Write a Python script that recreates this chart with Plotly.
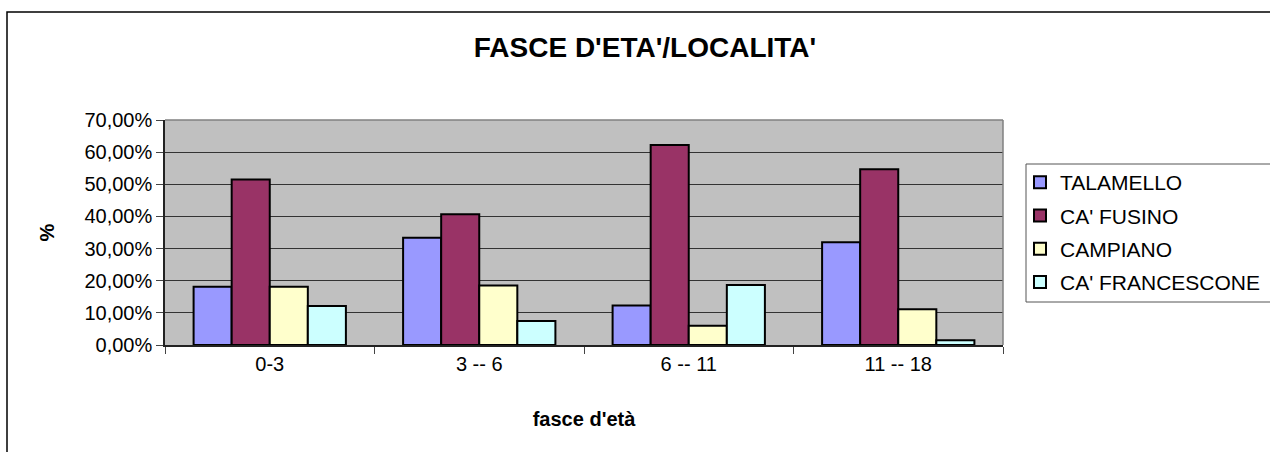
import plotly.graph_objects as go

categories = ["0-3", "3 -- 6", "6 -- 11", "11 -- 18"]
series_names = ["TALAMELLO", "CA' FUSINO", "CAMPIANO", "CA' FRANCESCONE"]
talamello = [0.181, 0.334, 0.123, 0.320]
ca_fusino = [0.515, 0.407, 0.622, 0.547]
campiano = [0.181, 0.185, 0.060, 0.111]
ca_francescone = [0.121, 0.075, 0.187, 0.015]
colors = ["#9999FF", "#993366", "#FFFFCC", "#CCFFFF"]

W, H = 1270, 452
L, R, T, B = 165, 1003, 120, 345
pw, ph = R - L, B - T

def px(x):
    return (x - L) / pw

def py(y):
    return (B - y) / ph

fig = go.Figure()
for i, (name, vals) in enumerate(zip(series_names, [talamello, ca_fusino, campiano, ca_francescone])):
    fig.add_trace(go.Bar(
        x=categories, y=vals, name=name, legendgroup=name,
        marker=dict(color=colors[i], line=dict(color="black", width=2)),
    ))

font_family = "Liberation Sans, Arial, sans-serif"

fig.update_layout(
    width=W, height=H,
    margin=dict(l=L, r=W - R, t=T, b=H - B, autoexpand=False),
    paper_bgcolor="white",
    plot_bgcolor="#C0C0C0",
    separators=",.",
    barmode="group",
    bargap=0.273,
    bargroupgap=0,
    font=dict(family=font_family, size=20, color="black"),
    title=dict(text="<b>FASCE D'ETA'/LOCALITA'</b>", x=(645) / W, xanchor="center",
               y=1 - 47 / H, yanchor="middle", font=dict(size=28)),
    xaxis=dict(
        showline=True, linecolor="#222", linewidth=1.5,
        ticks="outside", tickson="boundaries", ticklen=7, tickcolor="#444",
        tickfont=dict(size=20),
        title=dict(text="<b>fasce d'età</b>", font=dict(size=20), standoff=38),
        showgrid=False,
    ),
    yaxis=dict(
        range=[0, 0.7], dtick=0.1, tickformat=".2%",
        showline=True, linecolor="#222", linewidth=1.5,
        ticks="outside", ticklen=7, tickcolor="#444",
        showgrid=True, gridcolor="#333", gridwidth=1.2,
        zeroline=False,
        tickfont=dict(size=20),
        title=dict(text="<b>%</b>", font=dict(size=20), standoff=24),
    ),
    legend=dict(
        x=px(1020), y=py(162), xanchor="left", yanchor="top",
        bgcolor="rgba(0,0,0,0)", borderwidth=0,
        font=dict(size=21), tracegroupgap=3, itemwidth=30,
    ),
    showlegend=True,
)

# plot area top & right border (gray)
fig.add_shape(type="line", xref="paper", yref="paper", x0=0, x1=1, y0=1, y1=1,
              line=dict(color="#808080", width=1.5))
fig.add_shape(type="line", xref="paper", yref="paper", x0=1, x1=1, y0=0, y1=1,
              line=dict(color="#808080", width=1.5))
# legend box (cut off at right edge)
fig.add_shape(type="rect", xref="paper", yref="paper",
              x0=px(1026), x1=px(1290), y0=py(302), y1=py(164),
              line=dict(color="#555", width=1))
# outer chart frame (cut off at right and bottom)
fig.add_shape(type="rect", xref="paper", yref="paper",
              x0=px(7), x1=px(1290), y0=py(470), y1=py(12),
              line=dict(color="black", width=1.5))

fig.write_html("out.html", config={"displayModeBar": False},
               post_script="document.body.style.margin='0';document.body.style.padding='0';")
